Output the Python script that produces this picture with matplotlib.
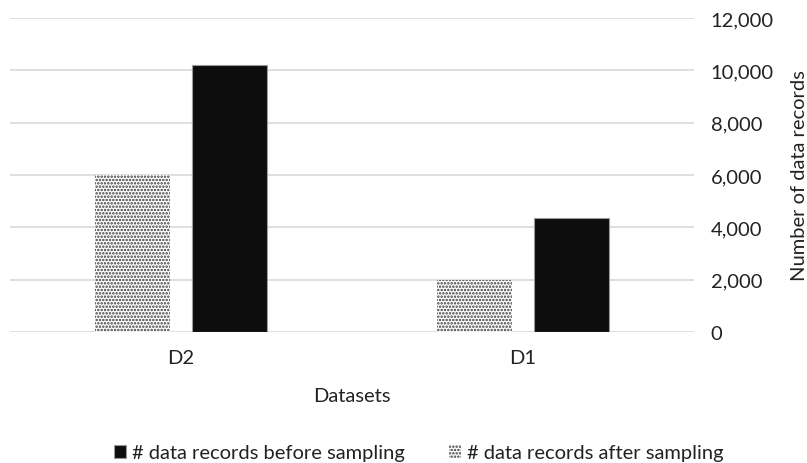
import matplotlib
matplotlib.use("Agg")
import matplotlib.pyplot as plt
import numpy as np
from matplotlib.ticker import FuncFormatter

categories = ["D2", "D1"]
before_sampling = [10200, 4350]
after_sampling = [6000, 2000]
yticks = [0, 2000, 4000, 6000, 8000, 10000, 12000]

plt.rcParams['font.family'] = ['Lato', 'DejaVu Sans']
plt.rcParams['hatch.linewidth'] = 1.2

FS = 14.5
fig = plt.figure(figsize=(8.07, 4.64), dpi=100)
ax = fig.add_axes([0.0124, 0.2823, 0.8476, 0.6767])

x = np.arange(len(categories))
w = 0.22
off = 0.142
b1 = ax.bar(x + off, before_sampling, w, color='#0d0d0d', edgecolor='#9a9a9a', linewidth=0.8,
            label='# data records before sampling', zorder=3)
b2 = ax.bar(x - off, after_sampling, w, facecolor='white', edgecolor='#3a3a3a', linewidth=0,
            hatch='.....', label='# data records after sampling', zorder=3)

ax.set_xlim(-0.5, 1.5)
ax.set_ylim(0, 12000)
ax.set_yticks(yticks)
ax.yaxis.set_major_formatter(FuncFormatter(lambda v, p: f"{int(v):,}"))
ax.yaxis.tick_right()
ax.yaxis.set_label_position('right')
ax.tick_params(axis='y', length=0, pad=12, labelsize=FS, labelcolor='#222222')
ax.tick_params(axis='x', length=0, pad=12, labelsize=FS, labelcolor='#222222')
ax.set_xticks(x)
ax.set_xticklabels(categories)
ax.grid(axis='y', color='#d9d9d9', linewidth=1.2, zorder=0)
for s in ax.spines.values():
    s.set_visible(False)
ax.set_ylabel('Number of data records', fontsize=FS, color='#222222')
ax.yaxis.set_label_coords(1.142, 0.5)
ax.set_xlabel('Datasets', fontsize=FS, color='#222222', labelpad=15)

fig.legend(handles=[b1, b2], loc='center', bbox_to_anchor=(0.519, 0.022), ncol=2,
           frameon=False, fontsize=FS, handlelength=0.6, handleheight=0.6,
           handletextpad=0.3, columnspacing=2.2, labelcolor='#222222')

fig.savefig('out.png', dpi=100)
